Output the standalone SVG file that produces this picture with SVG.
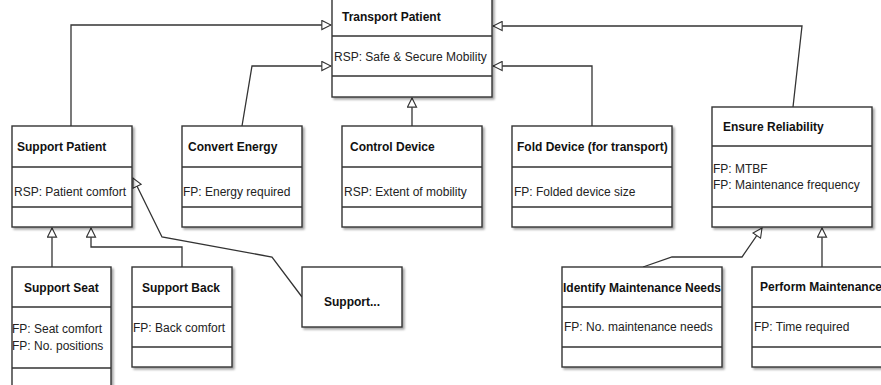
<svg xmlns="http://www.w3.org/2000/svg" width="881" height="385" viewBox="0 0 881 385">
<defs>
<marker id="tri" viewBox="0 0 12 12" refX="11" refY="6" markerWidth="11" markerHeight="11" markerUnits="userSpaceOnUse" orient="auto">
<path d="M1,1 L11,6 L1,11 Z" fill="#fff" stroke="#333" stroke-width="1.2"/>
</marker>
<filter id="shadow" x="-10%" y="-10%" width="130%" height="130%">
<feGaussianBlur in="SourceAlpha" stdDeviation="1"/>
<feOffset dx="2" dy="2" result="o"/>
<feComponentTransfer><feFuncA type="linear" slope="0.35"/></feComponentTransfer>
<feMerge><feMergeNode/><feMergeNode in="SourceGraphic"/></feMerge>
</filter>
</defs>
<style>
.box{fill:#fff;stroke:#333;stroke-width:1.4;filter:url(#shadow)}
.div{stroke:#333;stroke-width:1.4;fill:none}
.t{font-family:"Liberation Sans",Arial,sans-serif;font-size:12px;font-weight:bold;fill:#111}
.b{font-family:"Liberation Sans",Arial,sans-serif;font-size:12px;fill:#222}
.c{fill:none;stroke:#333;stroke-width:1.3;marker-end:url(#tri)}
</style>
<rect width="881" height="385" fill="#fff"/>

<g id="connectors">
<path class="c" d="M71,126 V25 H331"/>
<path class="c" d="M242,126 L252,66 H331"/>
<path class="c" d="M412,126 V98"/>
<path class="c" d="M592,126 V66 H493"/>
<path class="c" d="M793,107 L802,26 H493"/>
<path class="c" d="M52,267 V228"/>
<path class="c" d="M182,267 V247 H91 V228"/>
<path class="c" d="M302,297 L272,257 L162,237 L133,178"/>
<path class="c" d="M643,267 L672,257 H742 L762,228"/>
<path class="c" d="M822,267 V228"/>
</g>

<g id="transport-patient">
<rect class="box" x="332" y="-4" width="160" height="101"/>
<path class="div" d="M332,36 H492 M332,76 H492"/>
<text class="t" x="342" y="21">Transport Patient</text>
<text class="b" x="334" y="61">RSP: Safe &amp; Secure Mobility</text>
</g>

<g id="support-patient">
<rect class="box" x="12" y="126" width="120" height="101"/>
<path class="div" d="M12,167 H132 M12,207 H132"/>
<text class="t" x="17" y="151">Support Patient</text>
<text class="b" x="14" y="196">RSP: Patient comfort</text>
</g>

<g id="convert-energy">
<rect class="box" x="182" y="126" width="120" height="101"/>
<path class="div" d="M182,167 H302 M182,207 H302"/>
<text class="t" x="188" y="151">Convert Energy</text>
<text class="b" x="183" y="196">FP: Energy required</text>
</g>

<g id="control-device">
<rect class="box" x="342" y="126" width="140" height="101"/>
<path class="div" d="M342,167 H482 M342,207 H482"/>
<text class="t" x="350" y="151">Control Device</text>
<text class="b" x="344" y="196">RSP: Extent of mobility</text>
</g>

<g id="fold-device">
<rect class="box" x="512" y="126" width="160" height="101"/>
<path class="div" d="M512,167 H672 M512,207 H672"/>
<text class="t" x="517" y="151">Fold Device (for transport)</text>
<text class="b" x="514" y="196">FP: Folded device size</text>
</g>

<g id="ensure-reliability">
<rect class="box" x="712" y="107" width="160" height="120"/>
<path class="div" d="M712,146 H872 M712,207 H872"/>
<text class="t" x="723" y="131">Ensure Reliability</text>
<text class="b" x="713" y="173">FP: MTBF</text>
<text class="b" x="713" y="189">FP: Maintenance frequency</text>
</g>

<g id="support-seat">
<rect class="box" x="12" y="267" width="99" height="130"/>
<path class="div" d="M12,307 H111 M12,368 H111"/>
<text class="t" x="24" y="292">Support Seat</text>
<text class="b" x="12" y="333">FP: Seat comfort</text>
<text class="b" x="12" y="350">FP: No. positions</text>
</g>

<g id="support-back">
<rect class="box" x="132" y="267" width="100" height="100"/>
<path class="div" d="M132,307 H232 M132,347 H232"/>
<text class="t" x="142" y="292">Support Back</text>
<text class="b" x="133" y="332">FP: Back comfort</text>
</g>

<g id="support-more">
<rect class="box" x="302" y="267" width="100" height="60"/>
<text class="t" x="324" y="306">Support...</text>
</g>

<g id="identify-maintenance">
<rect class="box" x="562" y="267" width="160" height="100"/>
<path class="div" d="M562,307 H722 M562,347 H722"/>
<text class="t" x="563" y="292">Identify Maintenance Needs</text>
<text class="b" x="564" y="331">FP: No. maintenance needs</text>
</g>

<g id="perform-maintenance">
<rect class="box" x="752" y="267" width="160" height="100"/>
<path class="div" d="M752,307 H912 M752,347 H912"/>
<text class="t" x="760" y="291">Perform Maintenance</text>
<text class="b" x="754" y="331">FP: Time required</text>
</g>
</svg>
